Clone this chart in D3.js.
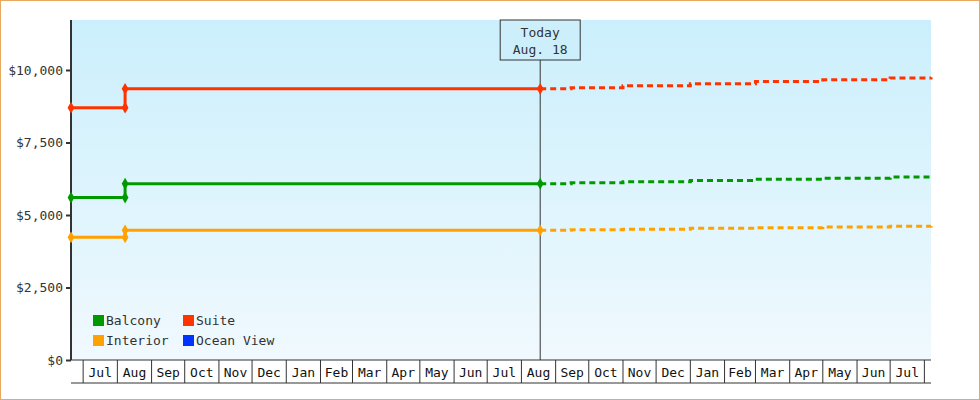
<!DOCTYPE html>
<html><head><meta charset="utf-8">
<script src="https://cdn.jsdelivr.net/npm/d3@7"></script>
<style>body{margin:0;background:#fff}svg{display:block;font-family:"DejaVu Sans Mono",monospace}</style>
</head><body><div id="canvas"></div>
<script>
// Data
var seriesNames = ["Balcony", "Suite", "Interior", "Ocean View"];
var seriesColors = ["#009a00", "#ff3300", "#ffa200", "#0033ff"];
var histDates = ["2023-06-20", "2023-08-08", "2024-08-18"];
var suiteHist = [8700, 9350, 9350];
var balconyHist = [5600, 6080, 6080];
var interiorHist = [4230, 4470, 4470];
var projDates = ["2024-08-18", "2024-09-15", "2024-11-01", "2025-01-01", "2025-03-01", "2025-05-01", "2025-07-01", "2025-08-07"];
var suiteProj = [9350, 9390, 9460, 9530, 9600, 9660, 9720, 9750];
var balconyProj = [6080, 6110, 6150, 6190, 6230, 6270, 6310, 6320];
var interiorProj = [4470, 4490, 4510, 4540, 4560, 4590, 4610, 4620];
var yTicks = [0, 2500, 5000, 7500, 10000];
var today = "2024-08-18";

var w = 980, h = 400;
var margin = {top: 20, right: 49, bottom: 40, left: 71};
var parse = d3.timeParse("%Y-%m-%d");

var svg = d3.select("#canvas").append("svg").attr("width", w).attr("height", h);

var grad = svg.append("defs").append("linearGradient").attr("id", "bg")
    .attr("x1", 0).attr("y1", 0).attr("x2", 0).attr("y2", 1);
grad.append("stop").attr("offset", "0%").attr("stop-color", "#cbeffc");
grad.append("stop").attr("offset", "100%").attr("stop-color", "#f0f9fe");

svg.append("rect").attr("x", 0.5).attr("y", 0.5).attr("width", w - 1).attr("height", h - 1)
    .attr("fill", "#fff").attr("stroke", "#e8a860");

var x = d3.scaleTime().domain([parse("2023-06-20"), parse("2025-08-07")])
    .range([margin.left, w - margin.right]);
var y = d3.scaleLinear().domain([0, 11724]).range([h - margin.bottom, margin.top]);

svg.append("rect").attr("x", margin.left).attr("y", margin.top)
    .attr("width", w - margin.left - margin.right).attr("height", h - margin.top - margin.bottom)
    .attr("fill", "url(#bg)");

// y axis
var yAxis = svg.append("g").attr("transform", `translate(${margin.left},0)`)
    .call(d3.axisLeft(y).tickValues(yTicks).tickSize(5).tickFormat(d => "$" + d3.format(",")(d)));
yAxis.select(".domain").attr("stroke", "#333").attr("stroke-width", 2)
    .attr("d", `M0,${margin.top}V${h - margin.bottom}`);
yAxis.selectAll(".tick line").attr("stroke", "#333").attr("stroke-width", 2);
yAxis.selectAll("text").attr("font-size", 13).attr("fill", "#333").attr("font-family", "DejaVu Sans Mono");

// x axis month cells
var months = d3.timeMonth.range(parse("2023-07-01"), parse("2025-08-01"));
var xb = h - margin.bottom, cellH = 23;
var xg = svg.append("g");
xg.append("line").attr("x1", margin.left).attr("x2", w - margin.right)
    .attr("y1", xb + cellH).attr("y2", xb + cellH).attr("stroke", "#333");
xg.append("line").attr("x1", margin.left).attr("x2", w - margin.right)
    .attr("y1", xb).attr("y2", xb).attr("stroke", "#333");
months.forEach(function(m, i) {
    var x0 = x(m), x1 = x(d3.timeMonth.offset(m, 1));
    xg.append("line").attr("x1", x0).attr("x2", x0).attr("y1", xb).attr("y2", xb + cellH).attr("stroke", "#333");
    if (i == months.length - 1) xg.append("line").attr("x1", x1).attr("x2", x1).attr("y1", xb).attr("y2", xb + cellH).attr("stroke", "#333");
    xg.append("text").attr("x", (x0 + x1) / 2).attr("y", xb + 17).attr("text-anchor", "middle")
        .attr("font-size", 13).attr("fill", "#111").text(d3.timeFormat("%b")(m));
});

// today line
var tx = x(parse(today));
svg.append("line").attr("x1", tx).attr("x2", tx).attr("y1", 60).attr("y2", xb).attr("stroke", "#333");
svg.append("rect").attr("x", tx - 40).attr("y", 20).attr("width", 80).attr("height", 40)
    .attr("fill", "#cdeffc").attr("stroke", "#333");
svg.append("text").attr("x", tx).attr("y", 37).attr("text-anchor", "middle").attr("font-size", 13).attr("fill", "#333").text("Today");
svg.append("text").attr("x", tx).attr("y", 54).attr("text-anchor", "middle").attr("font-size", 13).attr("fill", "#333").text("Aug. 18");

var line = d3.line().x(d => x(d[0])).y(d => y(d[1])).curve(d3.curveStepAfter);
var hist = [[balconyHist, 0], [suiteHist, 1], [interiorHist, 2]];
var proj = [[balconyProj, 0], [suiteProj, 1], [interiorProj, 2]];

proj.forEach(function(p) {
    var pts = projDates.map((d, i) => [parse(d), p[0][i]]);
    svg.append("path").attr("d", line(pts)).attr("fill", "none")
        .attr("stroke", seriesColors[p[1]]).attr("stroke-width", 3).attr("stroke-dasharray", "6,4");
});
hist.forEach(function(p) {
    var pts = histDates.map((d, i) => [parse(d), p[0][i]]);
    svg.append("path").attr("d", line(pts)).attr("fill", "none")
        .attr("stroke", seriesColors[p[1]]).attr("stroke-width", 3);
    var marks = [pts[0], [pts[1][0], p[0][0]], pts[1], pts[2]];
    svg.selectAll(null).data(marks).join("path")
        .attr("transform", d => `translate(${x(d[0])},${y(d[1])})`)
        .attr("d", d3.symbol(d3.symbolDiamond, 40)).attr("fill", seriesColors[p[1]]);
});

// legend
var lg = svg.append("g");
seriesNames.forEach(function(n, i) {
    var lx = 93 + (i % 2) * 90, ly = 315 + Math.floor(i / 2) * 20;
    lg.append("rect").attr("x", lx).attr("y", ly).attr("width", 11).attr("height", 11).attr("fill", seriesColors[i]);
    lg.append("text").attr("x", lx + 13).attr("y", ly + 10).attr("font-size", 13).attr("fill", "#333").text(n);
});
</script></body></html>
